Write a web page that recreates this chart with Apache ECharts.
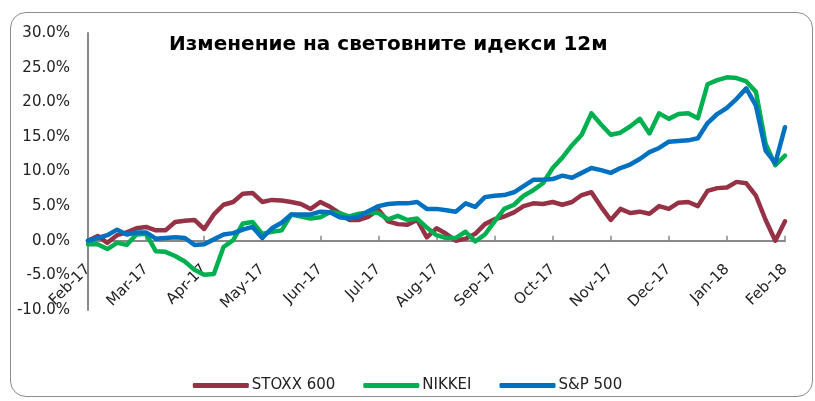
<!DOCTYPE html>
<html>
<head>
<meta charset="utf-8">
<script src="https://cdn.jsdelivr.net/npm/echarts@6/dist/echarts.min.js"></script>
<style>
  html, body { margin: 0; padding: 0; background: #fff; }
  #frame { position: absolute; left: 10px; top: 12px; width: 801px; height: 383px;
           border: 1px solid #8c8c8c; border-radius: 16px; }
  #chart { position: absolute; left: 0; top: 0; width: 815px; height: 401px; }
</style>
</head>
<body>
<div id="frame"></div>
<div id="chart"></div>
<script>
(function () {
  "use strict";

  // месечни етикети по оста X (по една на всеки 6 точки)
  const MONTHS = ["Feb-17", "Mar-17", "Apr-17", "May-17", "Jun-17", "Jul-17", "Aug-17",
                  "Sep-17", "Oct-17", "Nov-17", "Dec-17", "Jan-18", "Feb-18"];
  const STEPS_PER_MONTH = 6;

  // изменение в %, отчетено от графиката (73 точки, ~5 дни стъпка)
  const stoxx = [
    0.0, 0.7, -0.3, 0.8, 1.2, 1.8, 2.0, 1.5, 1.5, 2.7, 2.9, 3.0, 1.7,
    3.8, 5.2, 5.6, 6.8, 6.9, 5.6, 5.9, 5.8, 5.6, 5.3, 4.6, 5.6,
    4.9, 4.0, 3.0, 3.0, 3.5, 4.5, 2.8, 2.4, 2.3, 3.0, 0.5, 1.8,
    1.0, 0.0, 0.3, 1.0, 2.4, 3.1, 3.5, 4.1, 5.0, 5.4, 5.3, 5.6,
    5.2, 5.6, 6.6, 7.0, 4.9, 3.0, 4.6, 4.0, 4.2, 3.9, 5.0, 4.6,
    5.5, 5.6, 5.0, 7.2, 7.6, 7.7, 8.5, 8.3, 6.5, 3.0, 0.0, 2.8
  ];
  const nikkei = [
    -0.5, -0.5, -1.2, -0.3, -0.6, 0.9, 1.0, -1.5, -1.6, -2.2, -3.0, -4.2, -4.9,
    -4.8, -0.9, 0.1, 2.5, 2.7, 1.0, 1.3, 1.5, 3.8, 3.5, 3.2, 3.4,
    4.1, 4.0, 3.5, 3.9, 4.1, 4.0, 3.1, 3.6, 3.0, 3.2, 1.9, 0.8,
    0.4, 0.4, 1.3, -0.1, 0.9, 2.8, 4.6, 5.2, 6.5, 7.3, 8.3, 10.5,
    12.0, 13.8, 15.3, 18.4, 16.8, 15.3, 15.6, 16.5, 17.6, 15.5, 18.4, 17.6,
    18.3, 18.4, 17.7, 22.6, 23.2, 23.6, 23.5, 23.0, 21.5, 14.0, 10.9, 12.3
  ];
  const sp500 = [
    0.0, 0.4, 0.8, 1.6, 0.9, 1.2, 1.2, 0.3, 0.4, 0.5, 0.4, -0.6, -0.5,
    0.2, 0.9, 1.1, 1.6, 2.0, 0.4, 1.8, 2.6, 3.8, 3.8, 3.8, 4.2,
    4.1, 3.4, 3.2, 3.5, 4.3, 5.0, 5.3, 5.4, 5.4, 5.6, 4.6, 4.6,
    4.4, 4.2, 5.4, 4.9, 6.3, 6.5, 6.6, 7.0, 7.9, 8.8, 8.8, 8.9,
    9.4, 9.1, 9.8, 10.5, 10.2, 9.8, 10.5, 11.0, 11.8, 12.8, 13.4, 14.3,
    14.4, 14.5, 14.8, 17.0, 18.3, 19.2, 20.5, 22.0, 19.5, 13.0, 11.2, 16.4
  ];

  const NAMES = ["STOXX 600", "NIKKEI", "S&P 500"];
  const COLORS = ["#953245", "#00b050", "#0070c0"];
  const FONT = "DejaVu Sans";
  const AXIS_GREY = "#898989";
  const X_MAX = (MONTHS.length - 1) * STEPS_PER_MONTH;

  const chart = echarts.init(document.getElementById("chart"));

  const toPts = arr => arr.map((v, i) => [i, v]);

  chart.setOption({
    animation: false,
    title: {
      text: "Изменение на световните идекси 12м",
      left: 164, top: 30,
      textStyle: { fontFamily: FONT, fontSize: 20, fontWeight: "bold", color: "#000" }
    },
    legend: {
      bottom: 3, left: "center",
      itemWidth: 56, itemHeight: 5, itemGap: 28,
      icon: "roundRect",
      textStyle: { fontFamily: FONT, fontSize: 15, color: "#222", padding: [0, 0, 0, -2] },
      data: NAMES
    },
    grid: { left: 88, right: 30, top: 33, bottom: 91 },
    xAxis: [
      {
        // етикети в долната част на графиката (като "low" в Excel)
        type: "value", min: 0, max: X_MAX, interval: STEPS_PER_MONTH,
        position: "bottom",
        axisLine: { show: false, onZero: false },
        axisTick: { show: false },
        splitLine: { show: false },
        axisLabel: {
          rotate: 45, margin: -43, fontFamily: FONT, fontSize: 15, color: "#222",
          formatter: v => MONTHS[Math.round(v / STEPS_PER_MONTH)] || ""
        }
      },
      {
        // линия на нулата с деления нагоре
        type: "value", min: 0, max: X_MAX, interval: STEPS_PER_MONTH,
        position: "bottom",
        axisLine: { show: true, onZero: true, lineStyle: { color: AXIS_GREY, width: 2 } },
        axisTick: { show: true, inside: true, length: 5, lineStyle: { color: AXIS_GREY, width: 1.5 } },
        axisLabel: { show: false },
        splitLine: { show: false }
      }
    ],
    yAxis: {
      type: "value", min: -10, max: 30, interval: 5,
      axisLine: { show: true, onZero: false, lineStyle: { color: AXIS_GREY, width: 2 } },
      axisTick: { show: false },
      splitLine: { show: false },
      axisLabel: {
        margin: 18, fontFamily: FONT, fontSize: 15, color: "#222",
        formatter: v => v.toFixed(1) + "%"
      }
    },
    series: [stoxx, nikkei, sp500].map((arr, k) => ({
      name: NAMES[k], type: "line", data: toPts(arr),
      showSymbol: false, symbol: "none",
      lineStyle: { color: COLORS[k], width: 4.5, cap: "round", join: "round" },
      itemStyle: { color: COLORS[k] }
    }))
  });
})();
</script>
</body>
</html>
